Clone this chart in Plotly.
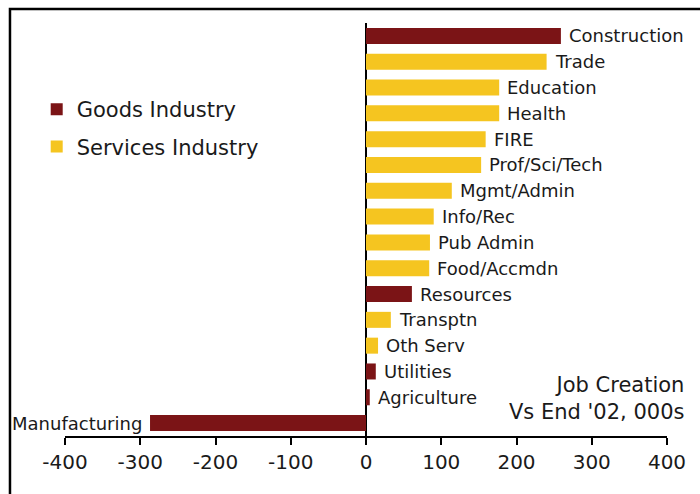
import plotly.graph_objects as go

categories = ["Construction", "Trade", "Education", "Health", "FIRE", "Prof/Sci/Tech",
              "Mgmt/Admin", "Info/Rec", "Pub Admin", "Food/Accmdn", "Resources",
              "Transptn", "Oth Serv", "Utilities", "Agriculture", "Manufacturing"]
values = [259, 240, 177, 177, 159, 153, 114, 90, 85, 84, 61, 33, 16, 13, 5, -287]
sector = ["Goods", "Services", "Services", "Services", "Services", "Services",
          "Services", "Services", "Services", "Services", "Goods",
          "Services", "Services", "Goods", "Goods", "Goods"]

tick_vals = [-400, -300, -200, -100, 0, 100, 200, 300, 400]
tick_text = ["-400", "-300", "-200", "-100", "0", "100", "200", "300", "400"]

GOODS = "#7B1416"
SERV = "#F5C520"
FONT = "DejaVu Sans"
TXT = "#1a1a1a"

fig = go.Figure()
for name, key, col, grp in [("Goods Industry", "Goods", GOODS, "g"),
                            ("Services Industry", "Services", SERV, "s")]:
    ys = [c for c, s in zip(categories, sector) if s == key]
    xs = [v for v, s in zip(values, sector) if s == key]
    fig.add_trace(go.Bar(x=xs, y=ys, orientation="h", name=name, legendgroup=grp,
                         marker=dict(color=col, line=dict(width=0))))

annotations = []
for c, v in zip(categories, values):
    annotations.append(dict(x=v, y=c, xref="x", yref="y", text=c, showarrow=False,
                            xanchor="left" if v >= 0 else "right",
                            xshift=6 if v >= 0 else -6,
                            font=dict(family=FONT, size=18, color=TXT)))
annotations.append(dict(x=1.0316, y=0.091, xref="paper", yref="paper",
                        text="Job Creation<br>Vs End '02, 000s", showarrow=False,
                        xanchor="right", yanchor="middle", align="right",
                        font=dict(family=FONT, size=21, color=TXT)))

fig.update_layout(
    width=700, height=494,
    margin=dict(l=65, r=33, t=23, b=58),
    paper_bgcolor="white", plot_bgcolor="white",
    barmode="relative", bargap=0.38,
    font=dict(family=FONT, color=TXT),
    showlegend=True,
    legend=dict(x=-0.047, y=0.84, xanchor="left", yanchor="top",
                font=dict(family=FONT, size=21, color=TXT),
                traceorder="grouped", tracegroupgap=7,
                bgcolor="rgba(0,0,0,0)"),
    annotations=annotations,
    xaxis=dict(range=[-400, 400], tickvals=tick_vals, ticktext=tick_text,
               showgrid=False, zeroline=True, zerolinecolor="black", zerolinewidth=1.5,
               showline=True, linecolor="black", linewidth=2,
               ticks="outside", ticklen=7, tickwidth=1.5, tickcolor="black",
               tickfont=dict(family=FONT, size=20, color=TXT), fixedrange=True),
    yaxis=dict(categoryorder="array", categoryarray=categories[::-1],
               range=[-0.5, len(categories) - 0.5],
               showticklabels=False, showgrid=False, zeroline=False, showline=False,
               ticks="", fixedrange=True),
    shapes=[dict(type="rect", xref="paper", yref="paper",
                 x0=-0.0914, x1=1.2, y0=-0.3, y1=1.034,
                 line=dict(color="black", width=2.5), fillcolor="rgba(0,0,0,0)", layer="above")],
)

fig.write_html("out.html")
